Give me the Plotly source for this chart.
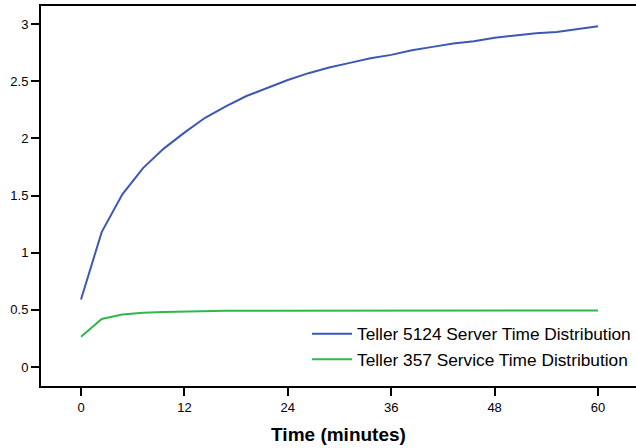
import plotly.graph_objects as go

# Sample times (minutes)
time_min = [0, 2.4, 4.8, 7.2, 9.6, 12, 14.4, 16.8, 19.2, 21.6, 24, 26.4, 28.8,
            31.2, 33.6, 36, 38.4, 40.8, 43.2, 45.6, 48, 50.4, 52.8, 55.2, 57.6, 60]

teller_5124 = [0.59, 1.18, 1.51, 1.74, 1.91, 2.05, 2.18, 2.28, 2.37, 2.44, 2.51, 2.57, 2.62,
               2.66, 2.70, 2.73, 2.77, 2.80, 2.83, 2.85, 2.88, 2.90, 2.92, 2.93, 2.955, 2.98]

teller_357 = [0.265, 0.42, 0.46, 0.475, 0.482, 0.487, 0.49, 0.491, 0.491, 0.491, 0.491, 0.49, 0.49,
              0.49, 0.49, 0.49, 0.49, 0.491, 0.491, 0.491, 0.492, 0.492, 0.493, 0.494, 0.494, 0.495]

series_names = ["Teller 5124 Server Time Distribution", "Teller 357 Service Time Distribution"]
x_ticks = [0, 12, 24, 36, 48, 60]
y_ticks = [0, 0.5, 1, 1.5, 2, 2.5, 3]
y_tick_text = ["0", "0.5", "1", "1.5", "2", "2.5", "3"]

fig = go.Figure()
fig.add_trace(go.Scatter(x=time_min, y=teller_5124, mode="lines", name=series_names[0],
                         line=dict(color="#3d58b3", width=2)))
fig.add_trace(go.Scatter(x=time_min, y=teller_357, mode="lines", name=series_names[1],
                         line=dict(color="#2eb84b", width=2)))

font_family = "Liberation Sans, Arial, sans-serif"

fig.update_layout(
    width=636, height=448,
    margin=dict(l=41, r=0, t=6, b=62),
    paper_bgcolor="white", plot_bgcolor="white",
    font=dict(family=font_family, color="black", size=13),
    showlegend=True,
    legend=dict(x=1, y=(386 - 316) / 380, xanchor="right", yanchor="top",
                bgcolor="rgba(0,0,0,0)", borderwidth=0, itemwidth=40,
                font=dict(size=17.3, family=font_family, color="black")),
    xaxis=dict(
        range=[-40 / 8.617, 555 / 8.617],
        tickvals=x_ticks, ticktext=[str(v) for v in x_ticks],
        ticks="outside", ticklen=8, tickwidth=2, tickcolor="black",
        showline=True, linecolor="black", linewidth=2, mirror=True,
        showgrid=False, zeroline=False,
        tickfont=dict(size=13),
        title=dict(text="<b>Time (minutes)</b>", font=dict(size=19), standoff=14),
    ),
    yaxis=dict(
        range=[-19 / 114.33, 361 / 114.33],
        tickvals=y_ticks, ticktext=y_tick_text,
        ticks="outside", ticklen=8, tickwidth=2, tickcolor="black",
        showline=True, linecolor="black", linewidth=2,
        showgrid=False, zeroline=False,
        tickfont=dict(size=13),
    ),
)

fig.write_html("out.html")
